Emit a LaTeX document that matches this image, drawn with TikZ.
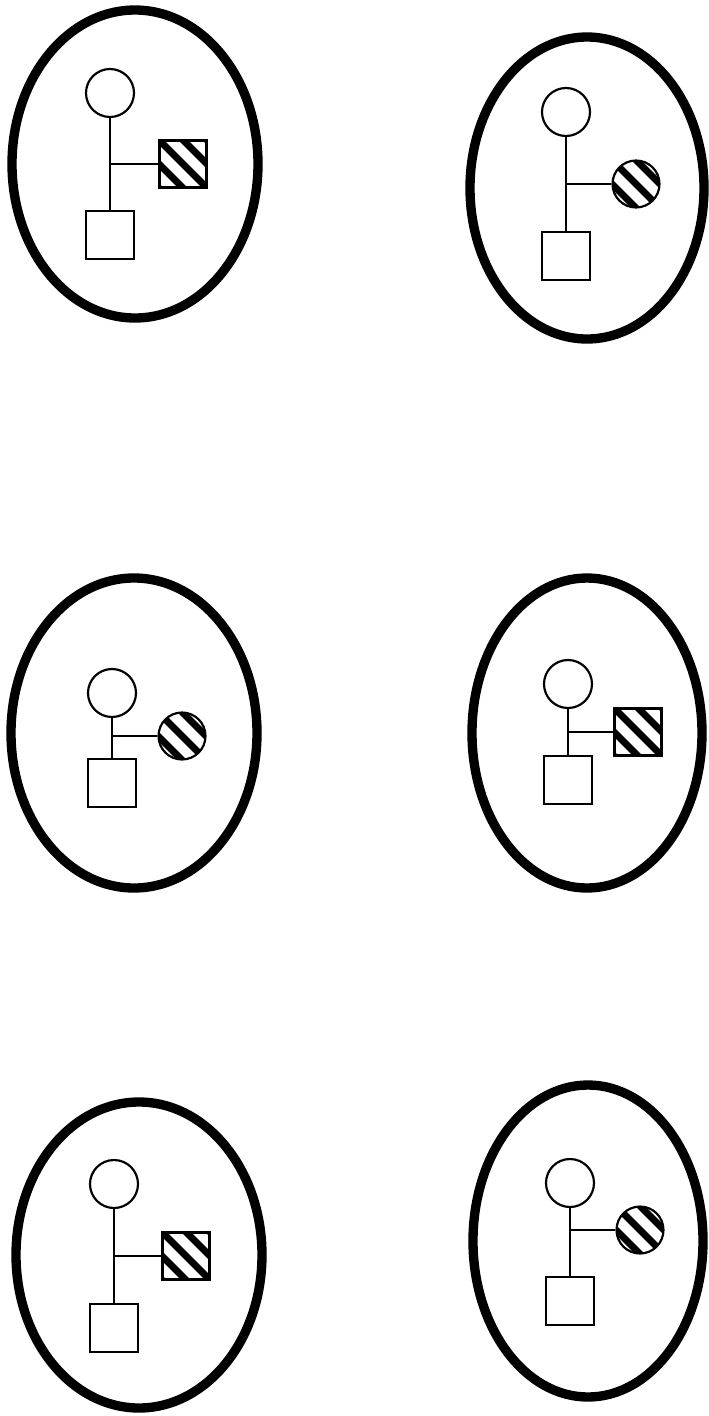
\documentclass[tikz,border=0pt]{standalone}
\usepackage{tikz}
\usetikzlibrary{calc}

\tikzset{
  oval/.style={line width=0.28cm},
  tie/.style={line width=0.065cm},
  person/.style={draw, line width=0.065cm, inner sep=0pt, fill=white},
  female/.style={person, circle, minimum size=1.44cm},
  male/.style={person, rectangle, minimum size=1.46cm},
  % diagonal stripes, top left to bottom right
  stripes/.style={path picture={
      \foreach \k in {-3,...,3}
        \draw[black, line width=0.21cm]
          ($(path picture bounding box.center)+(\k*12-40,-\k*12-40)$) -- ++(80,80);
  }},
  hsq/.style={male, minimum size=1.41cm, stripes},
  hci/.style={female, minimum size=1.41cm, stripes},
}

\begin{document}
\begin{tikzpicture}[x=0.03cm, y=-0.03cm]
    \useasboundingbox (0,0) rectangle (709,1416);

    % n / ellipse centre / radii / line x / mother y / branch y / child y / sibling x / sibling shape
    \foreach \n/\ex/\ey/\rx/\ry/\px/\my/\by/\ky/\sx/\kind in {
        1/135/164/123/154/110/93/164/235/183/hsq,
        2/587/188/117/151/566/112/184/256/636/hci,
        3/134/733/123/155/112/693/736/783/182/hci,
        4/587/733/115/155/568/684/732/780/638/hsq,
        5/139/1255/123/153/114/1184/1256/1328/186/hsq,
        6/588/1241/115/156/570/1183/1230/1301/640/hci}
    {
        \draw[oval] (\ex,\ey) ellipse [x radius=\rx, y radius=\ry];
        \node[female] (m\n) at (\px,\my) {};
        \node[male] (k\n) at (\px,\ky) {};
        \node[\kind] (s\n) at (\sx,\by) {};
        \coordinate (b\n) at (\px,\by);
        \draw[tie] (m\n) -- (k\n);
        \draw[tie] (b\n) -- (s\n);
    }

\end{tikzpicture}
\end{document}
